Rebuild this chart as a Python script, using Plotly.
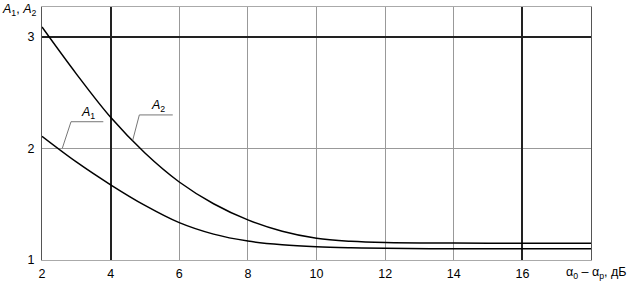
import plotly.graph_objects as go

x_vals = [2, 3, 4, 5, 6, 7, 8, 9, 10, 11, 12, 14, 16, 18]
a2_vals = [3.09, 2.67, 2.28, 1.96, 1.70, 1.505, 1.36, 1.258, 1.195, 1.168, 1.157, 1.152, 1.15, 1.15]
a1_vals = [2.11, 1.88, 1.675, 1.49, 1.335, 1.232, 1.17, 1.137, 1.119, 1.11, 1.105, 1.101, 1.10, 1.10]
x_ticks = [2, 4, 6, 8, 10, 12, 14, 16]
y_ticks = [1, 2, 3]
dark_x = [4, 16]
dark_y = [3]
x_range = [2, 18]
y_range = [1, 3.27]

fig = go.Figure()
# invisible helper trace so the overlay axes (dark grid lines) are drawn
fig.add_trace(go.Scatter(x=[x_range[0]], y=[y_range[0]], xaxis="x2", yaxis="y2", mode="markers",
                         marker=dict(opacity=0), hoverinfo="skip"))
fig.add_trace(go.Scatter(x=x_vals, y=a2_vals, mode="lines", line=dict(color="black", width=1.5, shape="spline", smoothing=1.0), hoverinfo="skip"))
fig.add_trace(go.Scatter(x=x_vals, y=a1_vals, mode="lines", line=dict(color="black", width=1.5, shape="spline", smoothing=1.0), hoverinfo="skip"))

shapes = []

def px2x(p):
    return 2 + (p - 42) / 34.3
def py2y(p):
    return 1 + (265 - p) / 114.7

shapes.append(dict(type="path", xref="x", yref="y",
                   path=f"M {px2x(62.3)},{py2y(150)} L {px2x(71)},{py2y(122.7)} L {px2x(103.3)},{py2y(122.7)}",
                   line=dict(color="#777", width=1)))
shapes.append(dict(type="path", xref="x", yref="y",
                   path=f"M {px2x(132.7)},{py2y(141.7)} L {px2x(139.3)},{py2y(115.7)} L {px2x(172.7)},{py2y(115.7)}",
                   line=dict(color="#777", width=1)))

font = dict(family="Liberation Sans, Arial", size=12.5, color="black")
annotations = [
    dict(x=px2x(88), y=py2y(114), xref="x", yref="y", text="<i>A</i><sub>1</sub>", showarrow=False, font=font),
    dict(x=px2x(158), y=py2y(107), xref="x", yref="y", text="<i>A</i><sub>2</sub>", showarrow=False, font=font),
    dict(x=0, y=1, xref="paper", yref="paper", xanchor="left", yanchor="top", xshift=-42, yshift=7,
         text="<i>A</i><sub>1</sub>, <i>A</i><sub>2</sub>", showarrow=False, font=font),
    dict(x=1, y=0, xref="paper", yref="paper", xanchor="right", yanchor="top", xshift=38, yshift=-3,
         text="α<sub>0</sub> – α<sub>р</sub>, дБ", showarrow=False, font=font),
]

fig.update_layout(
    width=631, height=287,
    margin=dict(l=42, r=40, t=6, b=22),
    paper_bgcolor="white", plot_bgcolor="white",
    showlegend=False,
    shapes=shapes, annotations=annotations,
    font=font,
    xaxis=dict(range=x_range, tickvals=x_ticks, ticktext=[str(t) for t in x_ticks],
               showgrid=True, gridcolor="#999", gridwidth=1, zeroline=False,
               showline=True, linecolor="#aaa", linewidth=1, mirror=True, ticks="", ticklabelstandoff=2),
    yaxis=dict(range=y_range, tickvals=y_ticks, ticktext=[str(t) for t in y_ticks],
               showgrid=True, gridcolor="#999", gridwidth=1, zeroline=False,
               showline=True, linecolor="#555", linewidth=1, mirror=True, ticks="", ticklabelstandoff=4),
    xaxis2=dict(range=x_range, overlaying="x", tickvals=dark_x, showticklabels=False,
                showgrid=True, gridcolor="#222", gridwidth=2, zeroline=False, showline=False, ticks=""),
    yaxis2=dict(range=y_range, overlaying="y", tickvals=dark_y, showticklabels=False,
                showgrid=True, gridcolor="#222", gridwidth=2, zeroline=False, showline=False, ticks=""),
)

fig.write_html("out.html")
